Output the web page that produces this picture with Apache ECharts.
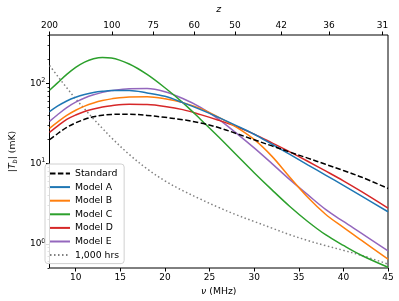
<!DOCTYPE html>
<html>
<head>
<meta charset="utf-8">
<script src="https://cdn.jsdelivr.net/npm/echarts@6/dist/echarts.min.js"></script>
<style>html,body{margin:0;padding:0;background:#fff;}#c{width:399px;height:301px;}</style>
</head>
<body>
<div id="c"></div>
<script>
// ---- data ----
const nu = [7.07, 8, 9, 10, 11, 12, 13, 14, 16, 18, 20, 22, 24, 26, 28, 30, 32, 34, 36, 38, 40, 42, 45];
const standard = [19.8, 23.7, 28.2, 32.2, 35.6, 38.3, 40.1, 41.0, 41.2, 39.8, 37.7, 35.2, 32.1, 28.1, 23.7, 19.8, 16.6, 13.9, 11.7, 9.8, 8.2, 6.8, 4.9];
const modelA = [44.3, 52.2, 60.3, 67.1, 72.6, 76.7, 79.4, 81.1, 81.3, 75.9, 68.9, 57.5, 47.0, 37.6, 29.7, 23.2, 17.4, 13.0, 9.66, 7.2, 5.35, 3.96, 2.51];
const modelB = [27.5, 33.1, 39.8, 46.2, 52.0, 56.9, 61.0, 64.0, 67.6, 67.8, 64.1, 57.5, 48.4, 38.0, 28.5, 20.0, 12.3, 6.76, 3.8, 2.34, 1.6, 1.11, 0.645];
const modelC = [82, 102, 129, 158, 184, 202, 210, 207, 174, 129, 88, 57.5, 35.5, 21.6, 12.9, 7.7, 4.7, 2.92, 1.9, 1.3, 0.955, 0.72, 0.51];
const modelD = [24.5, 29.5, 35.5, 40.3, 44.5, 47.9, 50.7, 52.7, 54.7, 54.3, 51.5, 47.0, 40.7, 34.7, 29.0, 23.3, 18.1, 14.0, 10.7, 8.1, 6.1, 4.5, 2.79];
const modelE = [33.5, 40.9, 49.8, 58.2, 65.6, 71.9, 77.1, 81.1, 85.7, 86.1, 78.5, 64.6, 50.1, 35.9, 24.0, 15.7, 10.0, 6.3, 4.1, 2.69, 1.9, 1.36, 0.82];
const hours1000 = [167, 122, 88, 64, 48, 36, 27.5, 21, 13, 8.6, 6.1, 4.6, 3.6, 2.85, 2.3, 1.9, 1.57, 1.3, 1.1, 0.95, 0.83, 0.72, 0.56];

const seriesNames = ['Standard', 'Model A', 'Model B', 'Model C', 'Model D', 'Model E', '1,000 hrs'];
const xTicks = [10, 15, 20, 25, 30, 35, 40, 45];
const zTicks = [200, 100, 75, 60, 50, 42, 36, 31];
const yMajor = [1, 10, 100];
const yMinor = [0.5, 0.6, 0.7, 0.8, 0.9, 2, 3, 4, 5, 6, 7, 8, 9, 20, 30, 40, 50, 60, 70, 80, 90, 200, 300, 400];

const NU21 = 1420.4;
const zNu = zTicks.map(z => NU21 / (z + 1));
const xMin = NU21 / 201, xMax = 45;

const FONT = 'DejaVu Sans';
const pairs = arr => nu.map((v, i) => [v, arr[i]]);

const styles = [
  {color: '#000000', type: [5.5, 2.4]},
  {color: '#1f77b4', type: 'solid'},
  {color: '#ff7f0e', type: 'solid'},
  {color: '#2ca02c', type: 'solid'},
  {color: '#d62728', type: 'solid'},
  {color: '#9467bd', type: 'solid'},
  {color: '#808080', type: [1.5, 2.5]}
];
const dataArrays = [standard, modelA, modelB, modelC, modelD, modelE, hours1000];

const chart = echarts.init(document.getElementById('c'), null, {renderer: 'canvas'});
chart.setOption({
  animation: false,
  textStyle: {fontFamily: FONT},
  grid: {left: 41, right: 11, top: 31, bottom: 33, show: true, borderColor: '#000', borderWidth: 1, backgroundColor: 'transparent'},
  legend: {
    orient: 'vertical', left: 45, top: 164,
    data: seriesNames,
    itemWidth: 20, itemHeight: 10, itemGap: 2.6,
    padding: [4, 5, 3, 4],
    itemStyle: {opacity: 0},
    backgroundColor: 'rgba(255,255,255,0.85)', borderColor: '#d0d0d0', borderWidth: 1, borderRadius: 3,
    textStyle: {fontFamily: FONT, fontSize: 9.3, color: '#000', lineHeight: 11}
  },
  xAxis: [
    {
      type: 'value', position: 'bottom', min: xMin, max: xMax,
      name: '{it|ν} (MHz)', nameLocation: 'middle', nameGap: 19,
      nameTextStyle: {fontFamily: FONT, fontSize: 9.3, color: '#000', rich: {it: {fontStyle: 'italic', fontFamily: FONT, fontSize: 9.3}}},
      axisLine: {show: false},
      splitLine: {show: false},
      axisTick: {show: true, inside: false, length: 3.5, lineStyle: {color: '#000'}, customValues: xTicks},
      axisLabel: {fontFamily: FONT, fontSize: 9, color: '#000', margin: 5, customValues: xTicks, formatter: v => String(Math.round(v))}
    },
    {
      type: 'value', position: 'top', min: xMin, max: xMax,
      name: 'z', nameLocation: 'middle', nameGap: 21,
      nameTextStyle: {fontFamily: FONT, fontSize: 9.3, color: '#000', fontStyle: 'italic'},
      axisLine: {show: false},
      splitLine: {show: false},
      axisTick: {show: true, inside: false, length: 3.5, lineStyle: {color: '#000'}, customValues: zNu},
      axisLabel: {fontFamily: FONT, fontSize: 9, color: '#000', margin: 5, customValues: zNu,
        formatter: v => String(Math.round(NU21 / v - 1))}
    }
  ],
  yAxis: [
    {
      type: 'log', logBase: 10, min: 0.5, max: 400,
      name: '|{it|T}{sub|b}| (mK)', nameLocation: 'middle', nameGap: 31,
      nameTextStyle: {fontFamily: FONT, fontSize: 9.3, color: '#000',
        rich: {it: {fontStyle: 'italic', fontFamily: FONT, fontSize: 9.3}, sub: {fontStyle: 'italic', fontFamily: FONT, fontSize: 6.5, padding: [5, 0, 0, 0]}}},
      axisLine: {show: false},
      splitLine: {show: false},
      axisTick: {show: true, inside: false, length: 3.5, lineStyle: {color: '#000'}, customValues: yMajor},
      axisLabel: {fontFamily: FONT, fontSize: 9, color: '#000', margin: 4, customValues: yMajor,
        formatter: v => '10{sup|' + Math.round(Math.log10(v)) + '}',
        rich: {sup: {fontFamily: FONT, fontSize: 6.5, color: '#000', padding: [0, 0, 6, 0]}}}
    },
    {
      type: 'log', logBase: 10, min: 0.5, max: 400, position: 'left',
      axisLine: {show: false},
      splitLine: {show: false},
      axisTick: {show: true, inside: false, length: 2, lineStyle: {color: '#000', width: 0.8}, customValues: yMinor},
      axisLabel: {show: false, customValues: yMinor}
    }
  ],
  series: dataArrays.map((arr, i) => ({
    name: seriesNames[i], type: 'line', xAxisIndex: 0, yAxisIndex: 0,
    data: pairs(arr), smooth: 0.35, symbol: 'none', showSymbol: false,
    lineStyle: {color: styles[i].color, width: 1.5, type: styles[i].type},
    itemStyle: {color: styles[i].color},
    z: 10 - i
  }))
});
</script>
</body>
</html>
